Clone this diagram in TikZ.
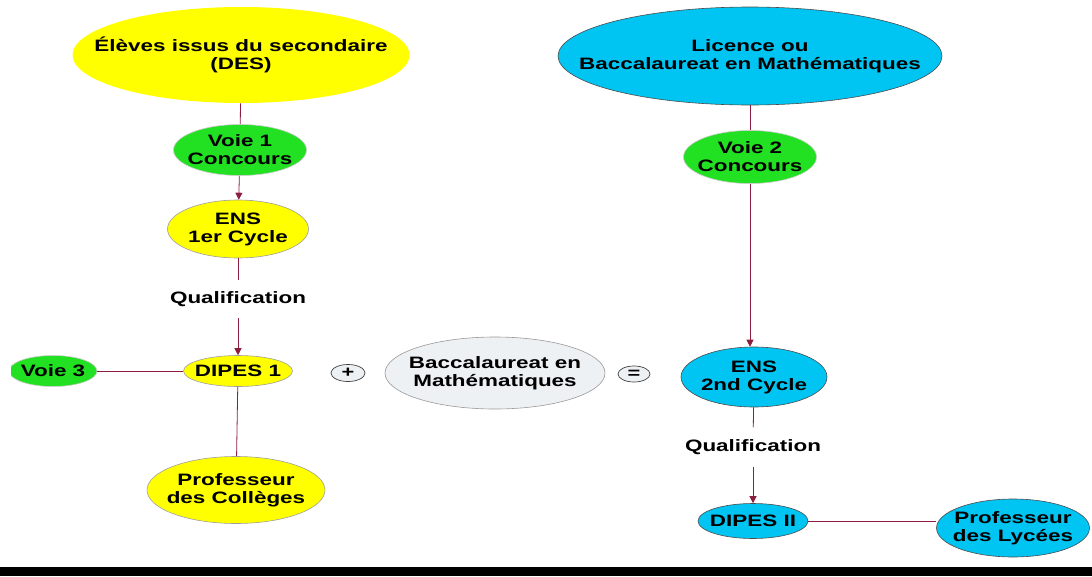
\documentclass[tikz,border=0pt]{standalone}
\usepackage{fontspec}
\setmainfont{Liberation Sans}[FakeStretch=1.36]
\usetikzlibrary{shapes.geometric,arrows.meta}
\definecolor{cyel}{HTML}{FFFF00}
\definecolor{cgrn}{HTML}{22E022}
\definecolor{ccyan}{HTML}{00C4F2}
\definecolor{cgray}{HTML}{EEF1F4}
\definecolor{cline}{HTML}{8B1E3F}
\begin{document}
\begin{tikzpicture}[x=1pt,y=-1pt,
  every node/.style={font=\fontsize{16.5}{18}\selectfont\bfseries, align=center, inner sep=0pt},
  every label/.style={font=\fontsize{16.5}{18}\selectfont\bfseries, align=center, inner sep=0pt},
  t/.style={label={center:#1}},
  ell/.style={ellipse, draw=gray!75, line width=0.6pt},
  yel/.style={ell, fill=cyel},
  grn/.style={ell, fill=cgrn, draw=gray!40},
  cy/.style={ell, fill=ccyan, draw=black!70},
  gr/.style={ell, fill=cgray, draw=gray!80},
  lbl/.style={minimum height=38pt},
  conn/.style={draw=cline, line width=0.8pt},
  arr/.style={conn, -{Triangle[length=7pt,width=7pt]}},
  op/.style={ellipse, draw=black!75, fill=cgray, line width=0.7pt, font=\fontsize{16}{16}\selectfont\bfseries}
]
\useasboundingbox (0,0) rectangle (1092,576);
% left column
\node[yel, draw=none, minimum width=337pt, minimum height=96pt, t={Élèves issus du secondaire\\(DES)}] (des) at (241,55) {};
\node[grn, minimum width=133pt, minimum height=51pt, t={Voie 1\\Concours}] (v1) at (240,150) {};
\node[yel, minimum width=141pt, minimum height=58pt, t={ENS\\1er Cycle}] (ens1) at (238,229) {};
\node[lbl] (q1) at (238,299) {Qualification};
\node[yel, minimum width=109pt, minimum height=31pt, t={DIPES 1}] (d1) at (238,371) {};
\begin{scope}
\clip (11,340) rectangle (120,400);
\node[grn, minimum width=88pt, minimum height=31pt, t={Voie 3}] (v3) at (53,371) {};
\end{scope}
\node[yel, minimum width=178pt, minimum height=67pt, t={Professeur\\des Collèges}] (pc) at (236,490) {};
% middle
\node[op, minimum width=34pt, minimum height=17pt] (plus) at (348,373) {+};
\node[gr, minimum width=220pt, minimum height=72pt, t={Baccalaureat en\\Mathématiques}] (bac) at (495,373) {};
\node[op, minimum width=32pt, minimum height=16pt] (eq) at (634,374) {=};
% right column
\node[cy, minimum width=384pt, minimum height=98pt, t={Licence ou\\Baccalaureat en Mathématiques}] (lic) at (750,56) {};
\node[grn, minimum width=133pt, minimum height=53pt, t={Voie 2\\Concours}] (v2) at (750,157) {};
\node[cy, minimum width=146pt, minimum height=60pt, t={ENS\\2nd Cycle}] (ens2) at (754,377) {};
\node[lbl, minimum height=39pt] (q2) at (753,447) {Qualification};
\node[cy, minimum width=110pt, minimum height=35pt, t={DIPES II}] (d2) at (753,521) {};
\node[cy, minimum width=153pt, minimum height=58pt, t={Professeur\\des Lycées}] (pl) at (1013,528) {};
% connectors
\draw[conn] (des) -- (v1);
\draw[arr] (v1) -- (ens1);
\draw[conn] (ens1) -- (q1);
\draw[arr] (q1) -- (d1);
\draw[conn] (v3.east) -- (d1.west);
\draw[conn] (d1) -- (pc);
\draw[conn] (lic.south -| v2.north) -- (v2);
\draw[arr] (v2.south) -- (v2.south |- ens2.north);
\draw[conn] (ens2) -- (q2);
\draw[arr] (q2) -- (d2);
\draw[conn] (d2.east) -- (pl.west |- d2.east);
% bottom bar
\fill[black] (0,567) rectangle (1092,576);
\end{tikzpicture}
\end{document}
